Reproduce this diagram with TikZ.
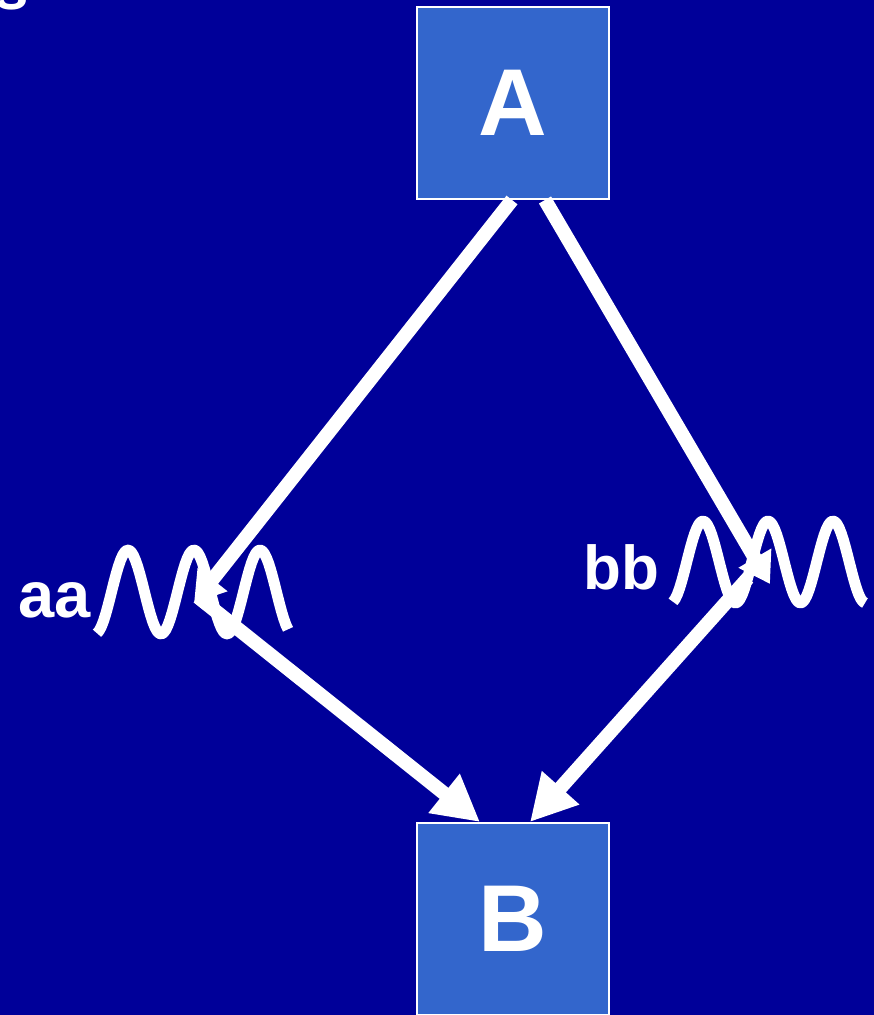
\documentclass[tikz,border=0pt]{standalone}
\usepackage{fontspec}
\setmainfont{Liberation Sans}
\usetikzlibrary{arrows.meta,positioning}
\definecolor{deepblue}{RGB}{0,0,153}
\definecolor{boxblue}{RGB}{51,102,204}

\begin{document}
\begin{tikzpicture}[x=1pt, y=-1pt,
  statebox/.style={draw=white, line width=2pt, fill=boxblue, minimum size=192pt, inner sep=0pt, text=white, font=\fontsize{95}{95}\selectfont\bfseries},
  tag/.style={text=white, inner sep=0pt, font=\fontsize{62}{62}\selectfont\bfseries},
  flow/.style={white, line width=14pt, -{Triangle[length=46pt, width=47pt]}},
  hop/.style={white, line width=14pt, -{Triangle[length=30pt, width=36pt]}},
  wave/.style={white, line width=11pt, line join=round}]

\fill[deepblue] (0,0) rectangle (874,1015);
\clip (0,0) rectangle (874,1015);

\node[tag, anchor=base west] (cut) at (-6,9) {s};

\node[statebox] (A) at (513,103) {A};
\node[statebox] (B) at (513,919) {B};

\coordinate (la) at (194,603);
\coordinate (ra) at (770,584);

% left branch
\draw[wave] plot[domain=97:288, samples=90] (\x, {592-42*cos(5.4545*(\x-128))});
\node[tag, anchor=base west, font=\fontsize{65}{65}\selectfont\bfseries] (aa) at (18,617) {aa};
\draw[hop] ([xshift=-1pt]A.south) -- (la);
\draw[flow] ([xshift=4pt, yshift=6pt]la) -- ([xshift=-33pt]B.north);

% right branch
\draw[wave] plot[domain=673:865, samples=90] (\x, {562-41*cos(5.5385*(\x-703))});
\node[tag, anchor=base west] (bb) at (583,589) {bb};
\draw[hop] ([xshift=32pt]A.south) -- (ra);
\draw[flow] ([xshift=-22pt, yshift=6pt]ra) -- ([xshift=17pt]B.north);

\end{tikzpicture}
\end{document}
